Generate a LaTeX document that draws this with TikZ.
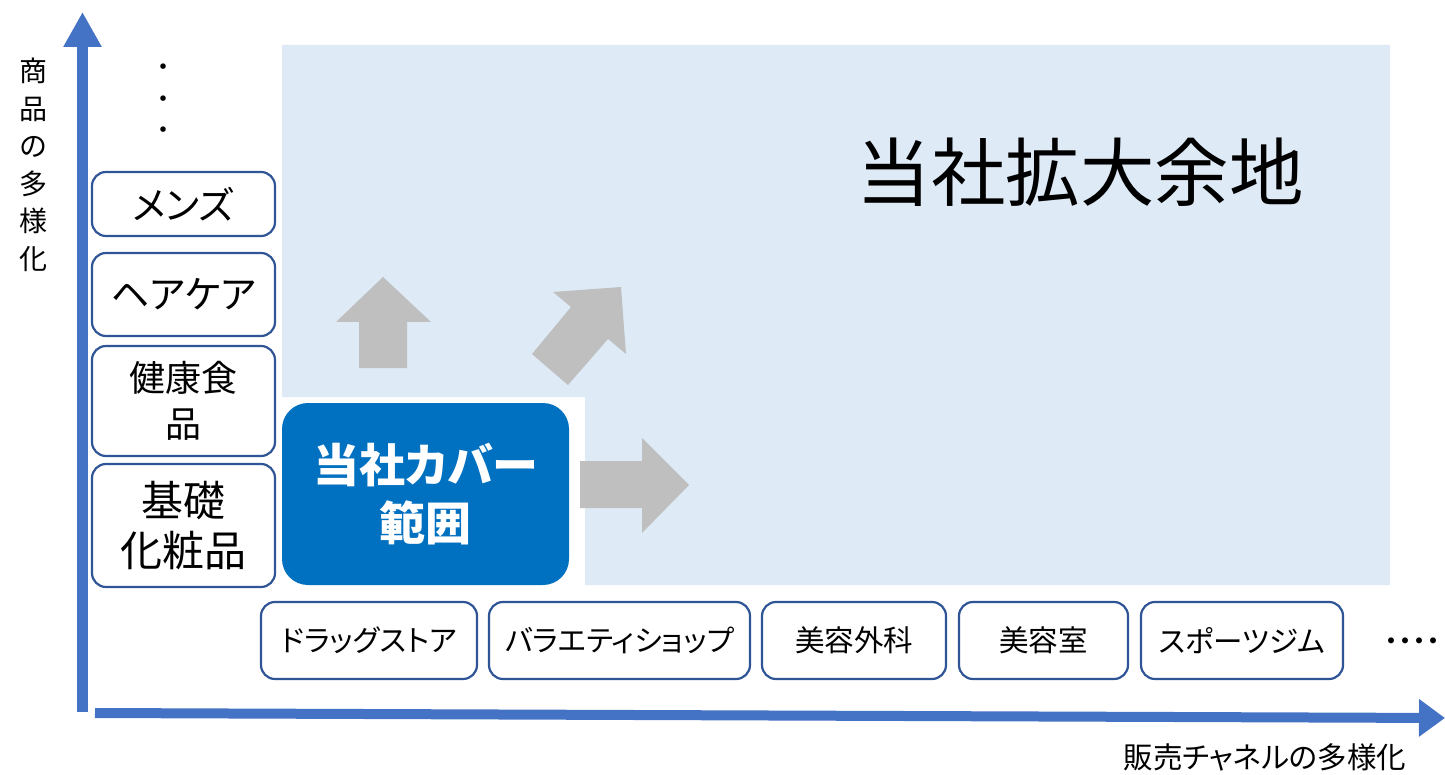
\documentclass[tikz,border=0pt]{standalone}
\usepackage{fontspec}
\setmainfont[RawFeature=+palt]{Noto Sans CJK JP}
\usetikzlibrary{arrows.meta}
\definecolor{axisblue}{HTML}{4472C4}
\definecolor{boxblue}{HTML}{2F5597}
\definecolor{areablue}{HTML}{DEEAF6}
\definecolor{coverblue}{HTML}{0070C0}
\definecolor{arrowgray}{HTML}{BFBFBF}
\tikzset{
  lbox/.style={draw=boxblue, line width=2.2pt, rounded corners=14pt, fill=white, align=center, inner sep=0pt},
  bbox/.style={lbox, minimum height=77pt, font=\fontsize{29.5}{34}\selectfont},
  axisline/.style={draw=axisblue, line width=11pt},
  garrow/.style={fill=arrowgray, draw=none}
}
\begin{document}
\begin{tikzpicture}[x=1pt,y=-1pt]
\useasboundingbox (0,0) rectangle (1445,775);
% light blue area
\fill[areablue] (282,45) -- (1390,45) -- (1390,585) -- (585,585) -- (585,397) -- (282,397) -- cycle;
% axes
\coordinate (yo) at (82.5,712);
\coordinate (ytop) at (82.5,12);
\coordinate (xo) at (95,713);
\coordinate (xend) at (1445,718);
\draw[axisline, -{Triangle[width=36pt,length=35pt]}] (yo) -- (ytop);
\draw[draw=axisblue, line width=10pt, -{Triangle[width=36pt,length=26pt]}] (xo) -- (xend);
% axis labels
\node[align=center, font=\fontsize{28}{37.5}\selectfont] (ylab) at (33,165) {商\\品\\の\\多\\様\\化};
\node[font=\fontsize{29.5}{34}\selectfont] (xlab) at (1265,757) {販売チャネルの多様化};
% vertical dots
\node[align=center, font=\fontsize{26}{31.5}\selectfont] (vdots) at (163,102) {・\\・\\・};
% left boxes
\node[lbox, minimum width=183pt, minimum height=64pt, font=\fontsize{38}{44}\selectfont] (men) at (183.5,204) {メンズ};
\node[lbox, minimum width=183pt, minimum height=83pt, font=\fontsize{38}{44}\selectfont] (hair) at (183.5,294.5) {ヘアケア};
\node[lbox, minimum width=183pt, minimum height=110pt, font=\fontsize{36}{46}\selectfont] (health) at (183.5,401) {健康食\\品};
\node[lbox, minimum width=183pt, minimum height=123pt, font=\fontsize{42}{50}\selectfont] (kiso) at (183.5,525.5) {基礎\\化粧品};
% cover box
\node[fill=coverblue, rounded corners=26pt, minimum width=287pt, minimum height=182pt, inner sep=0pt, align=center, text=white, font=\fontsize{46}{58}\bfseries\selectfont] (cover) at (425.5,494) {当社カバー\\範囲};
% big label
\node[font=\fontsize{74.5}{80}\selectfont] (expand) at (1080,172) {当社拡大余地};
% gray arrows
\fill[garrow] (383,277) -- (431,322) -- (407,322) -- (407,368) -- (359,368) -- (359,322) -- (336,322) -- cycle;
\fill[garrow] (621,287) -- (626,354) -- (608,339) -- (568,385) -- (532,354) -- (571,307) -- (553,292) -- cycle;
\fill[garrow] (580,461) -- (642,461) -- (642,438) -- (689,485) -- (642,533) -- (642,508) -- (580,508) -- cycle;
% bottom boxes
\node[bbox, minimum width=216pt] (drug) at (369,640.5) {ドラッグストア};
\node[bbox, minimum width=261pt] (variety) at (619.5,640.5) {バラエティショップ};
\node[bbox, minimum width=184pt] (geka) at (854,640.5) {美容外科};
\node[bbox, minimum width=169pt] (salon) at (1043.5,640.5) {美容室};
\node[bbox, minimum width=202pt] (gym) at (1242,640.5) {スポーツジム};
\node[inner sep=0pt, anchor=east, font=\fontsize{28}{34}\selectfont] (hdots) at (1441,645) {・・・・};
\end{tikzpicture}
\end{document}
